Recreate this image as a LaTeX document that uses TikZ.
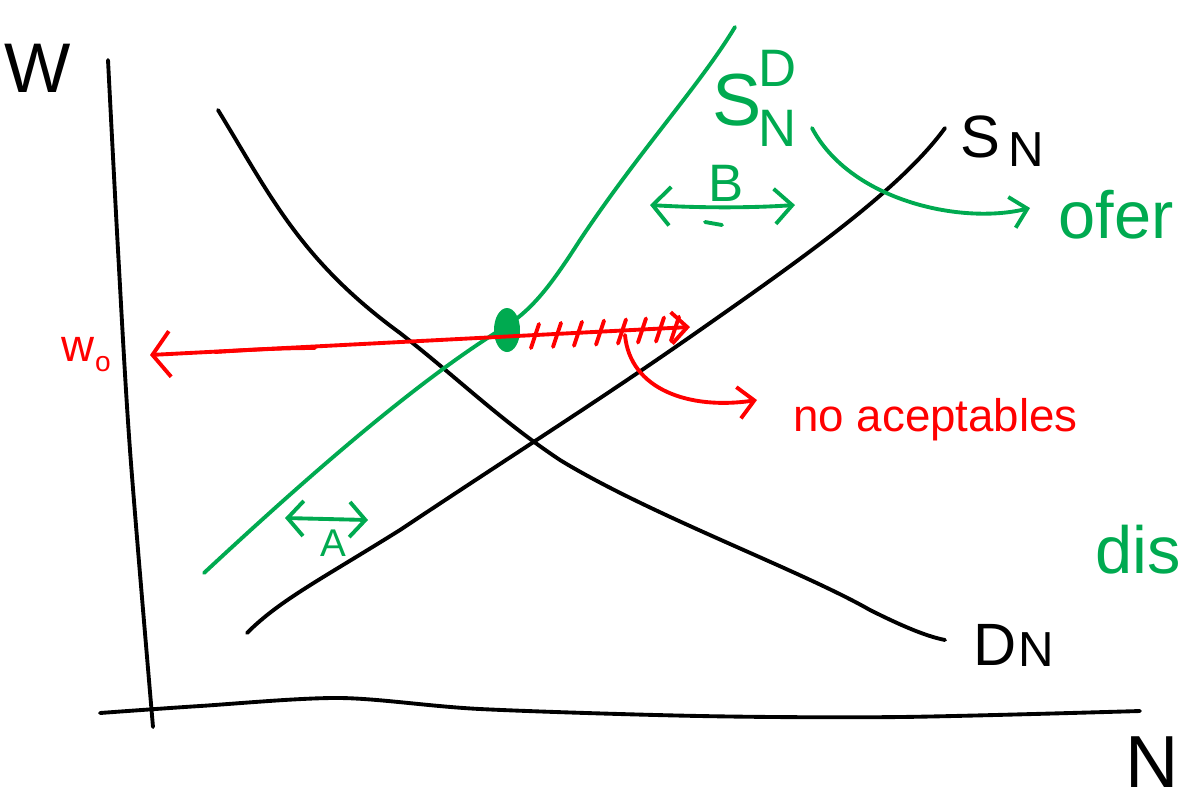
\documentclass[tikz,border=0pt]{standalone}
\usepackage{fontspec}
\setmainfont{Liberation Sans}
\usetikzlibrary{arrows.meta}
\definecolor{pgreen}{RGB}{0,170,80}
\definecolor{pred}{RGB}{255,0,0}
\begin{document}
\begin{tikzpicture}[x=0.02cm,y=-0.02cm, line cap=round, line join=round,
  ink/.style={line width=2.2pt},
  blk/.style={ink,black},
  grn/.style={ink,pgreen},
  rd/.style={ink,pred},
  lab/.style={inner sep=0pt,font=\fontsize{#1}{#1}\selectfont},
  lab/.default=30]
\useasboundingbox (0,0) rectangle (1183,806);
% axes
\draw[blk] plot[smooth] coordinates {(108,60) (118,250) (130,450) (153,727)};
\draw[blk] plot[smooth] coordinates {(100,713) (200,706) (340,698) (480,709) (700,716) (900,717) (1140,711)};
% demand
\draw[blk] (218,110) .. controls (270,195) and (300,260) .. (400,333)
  .. controls (460,380) and (500,420) .. (560,460)
  .. controls (650,515) and (800,570) .. (870,610)
  .. controls (900,625) and (925,636) .. (945,640);
% supply
\draw[blk] (247,633) .. controls (280,600) and (320,580) .. (400,530)
  .. controls (520,450) and (600,400) .. (700,330)
  .. controls (800,260) and (900,190) .. (945,128);
% green supply
\draw[grn] (204,573) .. controls (320,465) and (420,380) .. (500,330)
  .. controls (530,312) and (548,290) .. (580,240)
  .. controls (640,150) and (700,85) .. (735,27);
\fill[pgreen] (507,330) ellipse [x radius=13, y radius=22];
% red wage line
\draw[rd, {Straight Barb[length=10pt,width=26pt]}-{Straight Barb[length=9pt,width=18pt]}] (150,355) -- (690,327);
\draw[rd] (215,352) .. controls (260,349) and (290,348) .. (315,348);
\foreach \x in {535,557,578,600,622,642,660,675}{
  \draw[rd] ({\x-4},{355-(\x-148)*0.0517+13}) -- ({\x+4},{355-(\x-148)*0.0517-11});
}
% red curved arrow
\draw[rd,-{Straight Barb[length=9pt,width=18pt]}] (625,335) .. controls (630,390) and (690,410) .. (757,400);
% green curved arrow
\draw[grn,-{Straight Barb[length=9pt,width=18pt]}] (812,128) .. controls (850,200) and (960,225) .. (1030,208);
% A and B double arrows
\draw[grn,{Straight Barb[length=9pt,width=20pt]}-{Straight Barb[length=9pt,width=20pt]}] (285,518) -- (368,520);
\draw[grn,{Straight Barb[length=10pt,width=22pt]}-{Straight Barb[length=10pt,width=20pt]}] (650,205) .. controls (700,208) and (750,208) .. (795,205);
\draw[grn] (705,222) -- (722,225);
% labels
\node[lab=40] (W) at (38,68) {W};
\node[lab=42,anchor=east] (Nx) at (1179,762) {N};
\node[lab=34] (SN) at (980,137) {S};
\node[lab=28] (SNs) at (1026,150) {N};
\node[lab=34] (DN) at (995,645) {D};
\node[lab=28] (DNs) at (1036,650) {N};
\node[lab=42,text=pgreen] (SD) at (737,100) {S};
\node[lab=30,text=pgreen] (SDd) at (778,68) {D};
\node[lab=30,text=pgreen] (SDn) at (778,128) {N};
\node[lab=30,text=pgreen] (B) at (726,183) {B};
\node[lab=22,text=pgreen] (A) at (333,543) {A};
\node[lab=38,text=pgreen,anchor=west] (ofer) at (1058,215) {ofer};
\node[lab=38,text=pgreen,anchor=west] (dis) at (1095,550) {dis};
\node[lab=26,text=pred] (w0) at (78,349) {w};
\node[lab=16,text=pred] (w0s) at (103,364) {o};
\node[lab=26,text=pred,anchor=west] (noac) at (793,420) {no aceptables};
\end{tikzpicture}
\end{document}
